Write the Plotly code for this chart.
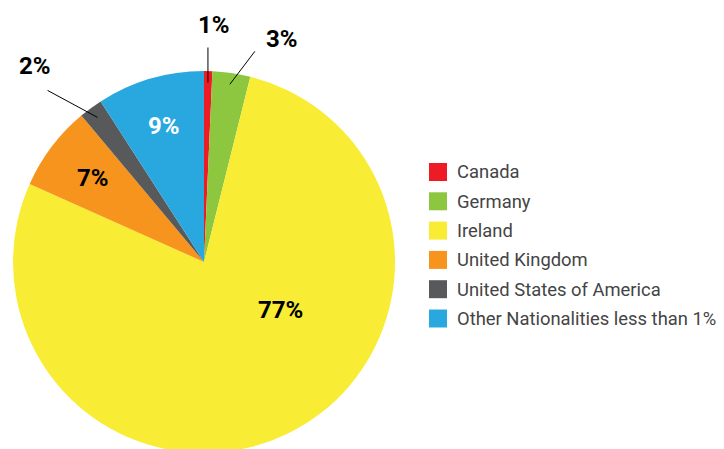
import math
import plotly.graph_objects as go

# ---- data ----
countries = ["Canada", "Germany", "Ireland", "United Kingdom",
             "United States of America", "Other Nationalities less than 1%"]
shares = [0.7, 3.2, 77.8, 7.2, 2.0, 9.1]
share_labels = ["1%", "3%", "77%", "7%", "2%", "9%"]
colors = ["#ED1C24", "#8DC63F", "#F8EC34", "#F7941D", "#58595B", "#29A8E0"]

# ---- layout geometry (pixels, in page coordinates) ----
W, H = 724, 449
OFF = 8  # default page body margin
CX, CY, R = 204, 262, 191

def px(x, y):
    return (x - OFF) / W, 1 - (y - OFF) / H

dx0, dy1 = px(CX - R, CY + R)
dx1, dy0 = px(CX + R, CY - R)

fig = go.Figure(go.Pie(
    labels=countries, values=shares, sort=False, direction="clockwise",
    rotation=0, marker=dict(colors=colors, line=dict(width=0)),
    textinfo="none", hoverinfo="label+percent", showlegend=False,
    domain=dict(x=[dx0, dx1], y=[dy1, dy0]),
))

total = sum(shares)
cum = 0
mids = []
for v in shares:
    mids.append((cum + v / 2) / total * 2 * math.pi)
    cum += v

def polar(ang, r):
    return CX + r * math.sin(ang), CY - r * math.cos(ang)

# label styles
outside = {0: ((0, -35), (6, -58)), 1: ((25, -33), (52, -45)), 4: ((-50, -27), (-63, -51))}
inside = {3: (0.73, None, "black"), 5: (0.74, None, "white"), 2: (0.475, 2.13, "black")}

shapes = []
annotations = []
font_b = "Roboto, Arial, sans-serif"
for i, lab in enumerate(share_labels):
    if i in outside:
        (lx, ly), (tx, ty) = outside[i]
        tipx, tipy = polar(mids[i], 0.94 * R)
        x0, y0 = px(tipx, tipy)
        x1, y1 = px(tipx + lx, tipy + ly)
        shapes.append(dict(type="line", xref="paper", yref="paper", x0=x0, y0=y0, x1=x1, y1=y1,
                           line=dict(color="black", width=1)))
        ax, ay = px(tipx + tx, tipy + ty)
        col = "black"
    else:
        rf, ang, col = inside[i]
        a = mids[i] if ang is None else ang
        tx, ty = polar(a, rf * R)
        ax, ay = px(tx, ty)
    annotations.append(dict(x=ax, y=ay, xref="paper", yref="paper", text="<b>%s</b>" % lab,
                            showarrow=False, xanchor="center", yanchor="middle",
                            font=dict(size=24, color=col, family=font_b)))

# manual legend
LX, LY0, LDY, SW = 429, 172, 29.3, 18
for i, name in enumerate(countries):
    yc = LY0 + i * LDY
    x0, y0 = px(LX, yc + SW / 2)
    x1, y1 = px(LX + SW, yc - SW / 2)
    shapes.append(dict(type="rect", xref="paper", yref="paper", x0=x0, y0=y0, x1=x1, y1=y1,
                       fillcolor=colors[i], line=dict(width=0)))
    tx, ty = px(LX + 26, yc)
    annotations.append(dict(x=tx, y=ty, xref="paper", yref="paper", text=name, showarrow=False,
                            xanchor="left", yanchor="middle",
                            font=dict(size=18.4, color="#444444", family="Roboto, Arial, sans-serif")))

fig.update_layout(width=W, height=H, margin=dict(l=0, r=0, t=0, b=0),
                  paper_bgcolor="white", plot_bgcolor="white",
                  shapes=shapes, annotations=annotations)
fig.write_html("out.html")
